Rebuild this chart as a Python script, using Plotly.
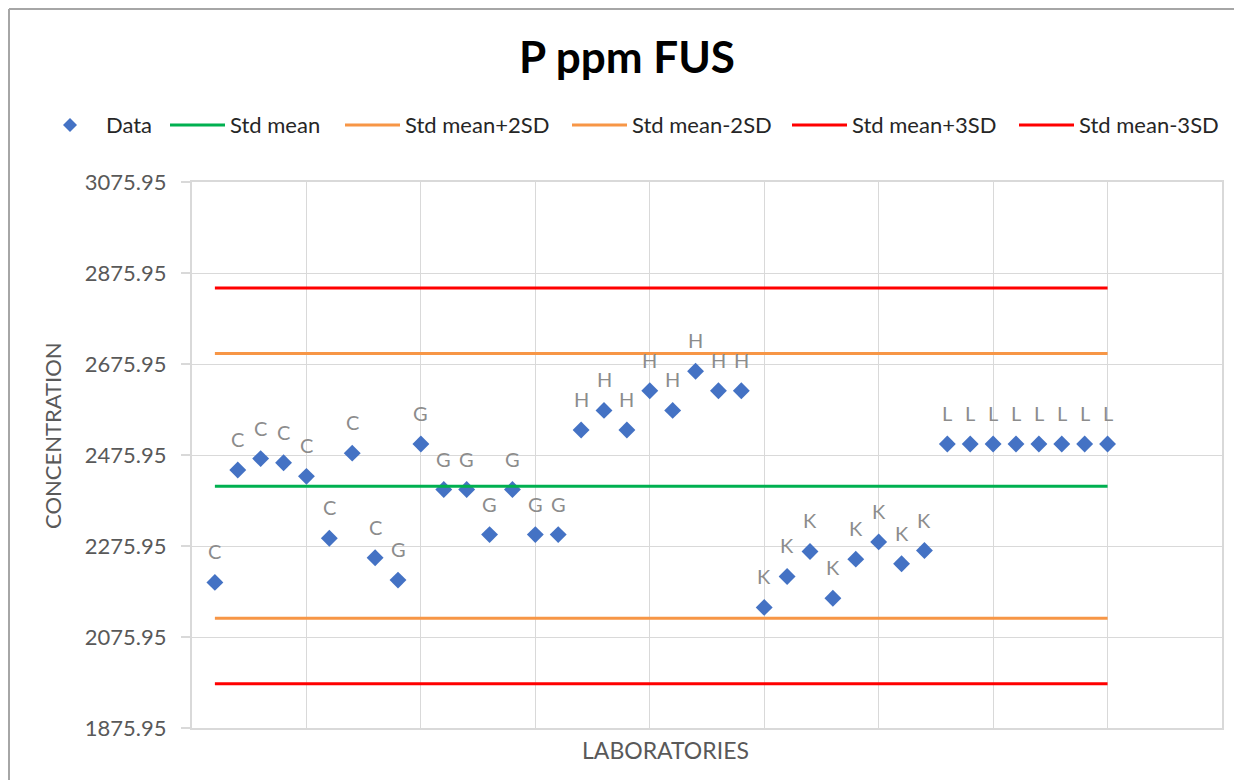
"""
P ppm FUS - laboratory control chart
"""
import plotly.graph_objects as go

# 数据
labs = list(range(1, 41))
lab_codes = ['C'] * 8 + ['G'] * 8 + ['H'] * 8 + ['K'] * 8 + ['L'] * 8
concentration = [
    2196, 2443, 2468, 2459, 2429, 2293, 2480, 2250,
    2201, 2500, 2400, 2400, 2301, 2400, 2301, 2301,
    2531, 2574, 2531, 2617, 2574, 2660, 2617, 2617,
    2141, 2209, 2264, 2161, 2247, 2285, 2237, 2266,
    2500, 2500, 2500, 2500, 2500, 2500, 2500, 2500,
]

line_x = [1, 40]
ref_names = ['Std mean', 'Std mean+2SD', 'Std mean-2SD', 'Std mean+3SD', 'Std mean-3SD']
ref_levels = [2407, 2699, 2117, 2843, 1973]
ref_colors = ['#00B050', '#F79646', '#F79646', '#FF0000', '#FF0000']

y_ticks = [1875.95, 2075.95, 2275.95, 2475.95, 2675.95, 2875.95, 3075.95]

FONT = 'Lato, Carlito, Calibri, sans-serif'
GRID = '#D9D9D9'
MARKER_COLOR = '#4472C4'

# 页面 body 有 8px 边距，图尺寸相应缩小
W, H = 1234, 772
PLOT_L, PLOT_W = 192, 1030   # 绘图区（页面像素）
PLOT_B, PLOT_H = 728, 546


def px(x):
    return (x - PLOT_L) / PLOT_W


def py(y):
    return (PLOT_B - y) / PLOT_H


fig = go.Figure()

# 数据点
fig.add_trace(go.Scatter(
    x=labs,
    y=concentration,
    name='Data',
    mode='markers',
    marker=dict(symbol='diamond', size=13, color=MARKER_COLOR),
))

# 参考线
for name, level, color in zip(ref_names, ref_levels, ref_colors):
    fig.add_trace(go.Scatter(
        x=line_x,
        y=[level, level],
        name=name,
        mode='lines',
        line=dict(color=color, width=3),
    ))

# 数据标签
for x, y, code in zip(labs, concentration, lab_codes):
    fig.add_annotation(
        x=x, y=y, text=code, showarrow=False, yshift=31,
        font=dict(family=FONT, size=20, color='#8C8C8C'),
    )

# 图例（手绘，线段比 plotly 默认更长）
LEG_Y = 125
leg_font = dict(family=FONT, size=22, color='#262626')
fig.add_shape(type='path', xref='paper', yref='paper',
              path=f'M {px(63)} {py(LEG_Y)} L {px(70)} {py(LEG_Y - 7)} '
                   f'L {px(77)} {py(LEG_Y)} L {px(70)} {py(LEG_Y + 7)} Z',
              fillcolor=MARKER_COLOR, line=dict(width=0))
fig.add_annotation(xref='paper', yref='paper', x=px(104), y=py(LEG_Y),
                   text='Data', showarrow=False, xanchor='left', yanchor='middle',
                   font=leg_font)
leg_line_starts = [170, 345, 572, 792, 1019]
for start, name, color in zip(leg_line_starts, ref_names, ref_colors):
    fig.add_shape(type='line', xref='paper', yref='paper',
                  x0=px(start), x1=px(start + 55), y0=py(LEG_Y), y1=py(LEG_Y),
                  line=dict(color=color, width=3))
    fig.add_annotation(xref='paper', yref='paper', x=px(start + 58), y=py(LEG_Y),
                       text=name, showarrow=False, xanchor='left', yanchor='middle',
                       font=leg_font)

# 坐标轴标题
axis_font = dict(family=FONT, size=22, color='#595959')
fig.add_annotation(xref='paper', yref='paper', x=px(665), y=py(750),
                   text='LABORATORIES', showarrow=False,
                   xanchor='center', yanchor='middle', font=dict(axis_font, size=23))
fig.add_annotation(xref='paper', yref='paper', x=px(52), y=py(436),
                   text='CONCENTRATION', showarrow=False, textangle=-90,
                   xanchor='center', yanchor='middle', font=axis_font)

# 外框（上、左）
fig.add_shape(type='line', xref='paper', yref='paper',
              x0=px(9), x1=px(1250), y0=py(9), y1=py(9),
              line=dict(color='#A6A6A6', width=2))
fig.add_shape(type='line', xref='paper', yref='paper',
              x0=px(9), x1=px(9), y0=py(790), y1=py(9),
              line=dict(color='#A6A6A6', width=2))

fig.update_layout(
    width=W,
    height=H,
    margin=dict(l=184, r=20, t=174, b=52),
    paper_bgcolor='white',
    plot_bgcolor='white',
    font=dict(family=FONT, color='#595959'),
    title=dict(
        text='<b>P ppm FUS</b>',
        x=0.5016, xanchor='center',
        y=1 - 50 / H, yanchor='middle',
        font=dict(family=FONT, size=44, color='black'),
    ),
    showlegend=False,
    xaxis=dict(
        range=[0, 45],
        dtick=5,
        tick0=0,
        showticklabels=False,
        showgrid=True,
        gridcolor=GRID,
        gridwidth=1,
        zeroline=False,
        showline=True,
        linecolor=GRID,
        linewidth=2,
        mirror=True,
    ),
    yaxis=dict(
        range=[1875.95, 3075.95],
        tickvals=y_ticks,
        tickformat='.2f',
        showgrid=True,
        gridcolor=GRID,
        gridwidth=1,
        zeroline=False,
        showline=True,
        linecolor=GRID,
        linewidth=2,
        mirror=True,
        ticks='outside',
        ticklen=9,
        tickcolor=GRID,
        tickwidth=2,
        ticklabelstandoff=10,
        tickfont=dict(family=FONT, size=22, color='#595959'),
    ),
)

fig.write_html('out.html')
